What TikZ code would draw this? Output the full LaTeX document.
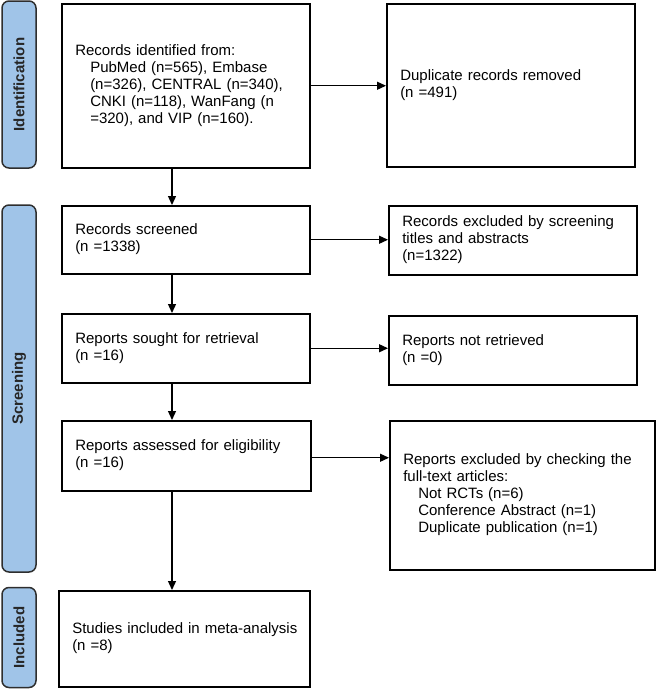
\documentclass[tikz,border=0pt]{standalone}
\usepackage{fontspec}
\setmainfont{Liberation Sans}
\usetikzlibrary{arrows.meta}
\definecolor{sidefill}{HTML}{A0C4E8}
\definecolor{sideline}{HTML}{2E2E2E}
\tikzset{
  box/.style={draw=black, line width=1.5pt, anchor=north west, inner xsep=13.5pt, inner ysep=2pt,
    font=\fontsize{15pt}{17pt}\selectfont},
  side/.style={draw=sideline, fill=sidefill, line width=1.5pt, rounded corners=7pt, rotate=90,
    minimum height=34pt, inner sep=0pt, font=\bfseries\fontsize{15pt}{17pt}\selectfont, text=black!85},
  arr/.style={line width=1.3pt, -{Triangle[length=9pt,width=8pt]}}
}
\newcommand{\ind}{\hspace*{15pt}}
\newcommand{\tb}[1]{\begin{tabular}{@{}l@{}}#1\end{tabular}}
\begin{document}
\begin{tikzpicture}[x=1pt,y=-1pt]
\useasboundingbox (0,0) rectangle (656,689);
% sidebars
\node[side, minimum width=167pt] (sid) at (19,84.5) {Identification};
\node[side, minimum width=367pt] (sscr) at (19,388.5) {Screening};
\node[side, minimum width=100pt] (sinc) at (19,637.5) {Included};
% boxes
\node[box, minimum width=248pt, text width=221pt, minimum height=164pt] (b1) at (61,3)
  {\tb{Records identified from:\\
   \ind PubMed (n=565), Embase\\
   \ind (n=326), CENTRAL (n=340),\\
   \ind CNKI (n=118), WanFang (n\\
   \ind =320), and VIP (n=160).}};
\node[box, minimum width=248pt, text width=221pt, minimum height=163pt] (dup) at (386,3)
  {\tb{Duplicate records removed\\(n =491)}};
\node[box, minimum width=248pt, text width=221pt, minimum height=68pt] (scr) at (61,205)
  {\tb{Records screened\\(n =1338)}};
\node[box, minimum width=248pt, text width=221pt, minimum height=69pt] (exc) at (388,205)
  {\tb{Records excluded by screening\\titles and abstracts\\(n=1322)}};
\node[box, minimum width=248pt, text width=221pt, minimum height=69pt] (sou) at (61,313)
  {\tb{Reports sought for retrieval\\(n =16)}};
\node[box, minimum width=248pt, text width=221pt, minimum height=69pt] (nr) at (388,315)
  {\tb{Reports not retrieved\\(n =0)}};
\node[box, minimum width=249pt, text width=222pt, minimum height=70pt] (ass) at (61,420)
  {\tb{Reports assessed for eligibility\\(n =16)}};
\node[box, minimum width=265pt, text width=238pt, minimum height=149pt] (ft) at (389,420)
  {\tb{Reports excluded by checking the\\full-text articles:\\
   \ind Not RCTs (n=6)\\
   \ind Conference Abstract (n=1)\\
   \ind Duplicate publication (n=1)}};
\node[box, minimum width=251pt, text width=224pt, minimum height=96pt] (inc) at (58,590)
  {\tb{Studies included in meta-analysis\\(n =8)}};
% connectors
\coordinate (spine) at (172,0);
\draw[arr] (b1.east) -- (b1.east -| dup.west);
\draw[arr] (scr.east) -- (scr.east -| exc.west);
\draw[arr] (sou.east) -- (sou.east -| nr.west);
\draw[arr] (ass.east) ++(0,2) coordinate (ae) -- (ae -| ft.west);
\draw[arr] (b1.south -| spine) -- (scr.north -| spine);
\draw[arr] (scr.south -| spine) -- (sou.north -| spine);
\draw[arr] (sou.south -| spine) -- (ass.north -| spine);
\draw[arr] (ass.south -| spine) -- (inc.north -| spine);
\end{tikzpicture}
\end{document}
